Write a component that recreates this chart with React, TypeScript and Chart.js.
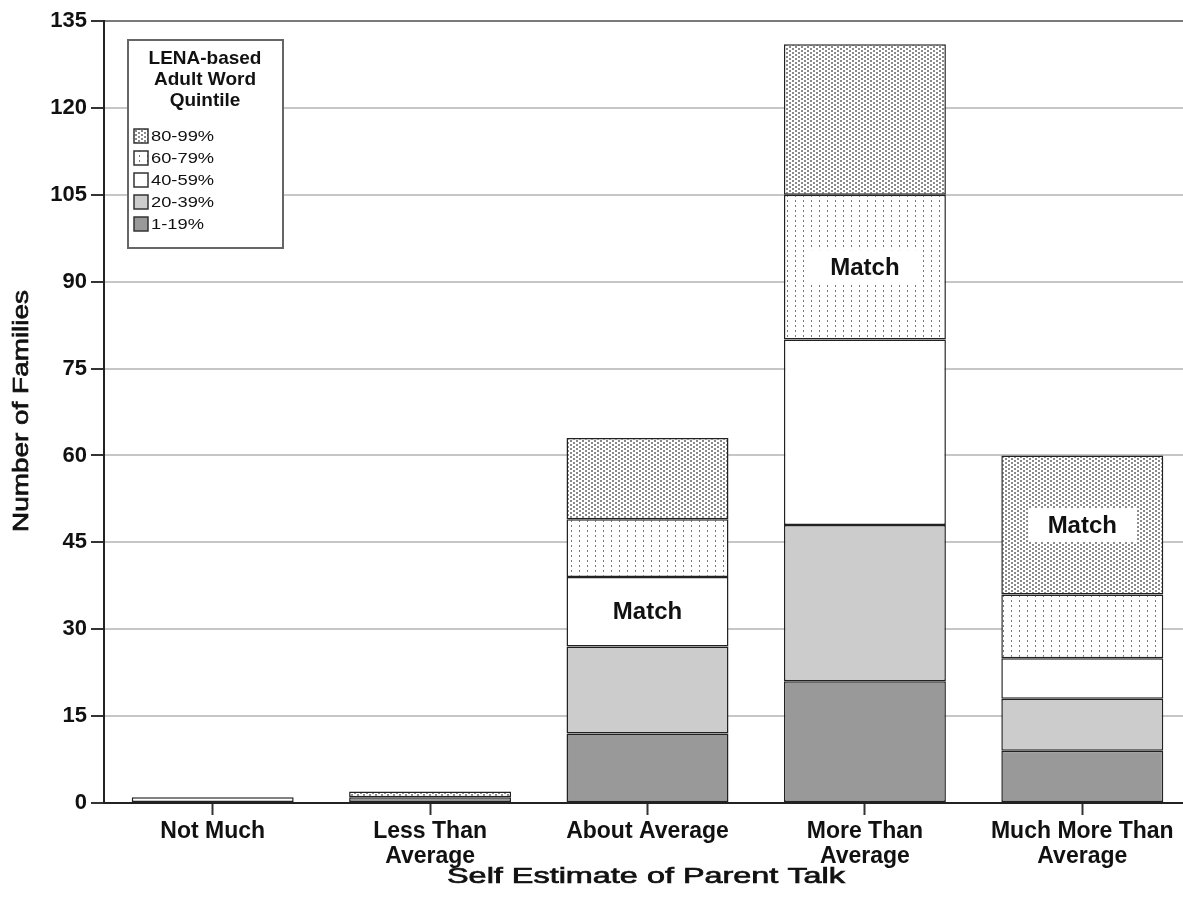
import React, { useEffect, useRef } from "react";
import { Chart, registerables } from "chart.js";
Chart.register(...registerables);

const categories = [["Not Much"], ["Less Than", "Average"], ["About Average"], ["More Than", "Average"], ["Much More Than", "Average"]];
const seriesLabels = ["1-19%", "20-39%", "40-59%", "60-79%", "80-99%"];
const q1 = [0, 1, 12, 21, 9];
const q2 = [0, 0, 15, 27, 9];
const q3 = [1, 0, 12, 32, 7];
const q4 = [0, 0, 10, 25, 11];
const q5 = [0, 1, 14, 26, 24];
const matchSeries = [-1, -1, 2, 3, 4];
const matchText = "Match";
const legendTitle = ["LENA-based", "Adult Word", "Quintile"];
const xTitle = "Self Estimate of Parent Talk";
const yTitle = "Number of Families";
const yMax = 135;
const yStep = 15;

const FONT = '"Liberation Sans", Arial, Helvetica, sans-serif';

function makePattern(kind: string): CanvasPattern | string {
  const c = document.createElement("canvas");
  const g = c.getContext("2d")!;
  if (kind === "dense") {
    c.width = 6; c.height = 4;
    g.fillStyle = "#fff"; g.fillRect(0, 0, 6, 4);
    g.fillStyle = "#8a8a8a";
    g.fillRect(0, 0, 2, 2);
    g.fillRect(3, 2, 2, 2);
  } else {
    c.width = 8; c.height = 5;
    g.fillStyle = "#fff"; g.fillRect(0, 0, 8, 5);
    g.fillStyle = "#7a7a7a";
    g.fillRect(3, 0, 1, 2);
  }
  return g.createPattern(c, "repeat") || "#ddd";
}

export default function App() {
  const ref = useRef<HTMLCanvasElement | null>(null);
  useEffect(() => {
    document.body.style.margin = "0";
    document.body.style.overflow = "hidden";
    const canvas = ref.current!;
    const fills: any[] = ["#999999", "#cccccc", "#ffffff", makePattern("vdots"), makePattern("dense")];
    const series = [q1, q2, q3, q4, q5];

    const drawWideText = (ctx: any, text: string, x: number, y: number, width: number, rot: number) => {
      ctx.save();
      ctx.font = `22px ${FONT}`;
      const w = ctx.measureText(text).width;
      ctx.translate(x, y);
      ctx.rotate(rot);
      ctx.scale(width / w, 1);
      ctx.fillStyle = "#111";
      ctx.strokeStyle = "#111";
      ctx.lineWidth = 0.7;
      ctx.textAlign = "center";
      ctx.textBaseline = "middle";
      ctx.fillText(text, 0, 0);
      ctx.strokeText(text, 0, 0);
      ctx.restore();
    };

    const overlay = {
      id: "overlay",
      afterDatasetsDraw(chart: any) {
        const ctx = chart.ctx;
        ctx.save();
        matchSeries.forEach((ds, i) => {
          if (ds < 0) return;
          const el = chart.getDatasetMeta(ds).data[i];
          const cx = el.x;
          const cy = (el.y + el.base) / 2;
          ctx.fillStyle = "#fff";
          ctx.fillRect(cx - 54, cy - 17, 108, 34);
          ctx.fillStyle = "#111";
          ctx.font = `bold 24px ${FONT}`;
          ctx.textAlign = "center";
          ctx.textBaseline = "middle";
          ctx.fillText(matchText, cx, cy + 1);
        });
        ctx.restore();
      },
      afterDraw(chart: any) {
        const ctx = chart.ctx;
        ctx.save();
        drawWideText(ctx, xTitle, 646, 877, 398, 0);
        drawWideText(ctx, yTitle, 22, 411, 242, -Math.PI / 2);
        // legend box
        ctx.fillStyle = "#fff";
        ctx.fillRect(128, 40, 155, 208);
        ctx.strokeStyle = "#666";
        ctx.lineWidth = 2;
        ctx.strokeRect(128, 40, 155, 208);
        ctx.fillStyle = "#111";
        ctx.textAlign = "center";
        ctx.textBaseline = "middle";
        ctx.font = `bold 19px ${FONT}`;
        legendTitle.forEach((t, k) => ctx.fillText(t, 205, 59 + k * 21));
        for (let k = 0; k < 5; k++) {
          const si = 4 - k;
          const cy = 136 + k * 22;
          ctx.fillStyle = fills[si];
          ctx.fillRect(134, cy - 7, 14, 14);
          ctx.strokeStyle = "#333";
          ctx.lineWidth = 1.5;
          ctx.strokeRect(134, cy - 7, 14, 14);
          ctx.fillStyle = "#111";
          ctx.font = `15px ${FONT}`;
          ctx.textAlign = "left";
          ctx.save();
          ctx.translate(151, cy + 1);
          ctx.scale(1.22, 1);
          ctx.fillText(seriesLabels[si], 0, 0);
          ctx.restore();
        }
        ctx.restore();
      },
    };

    const chart = new Chart(canvas, {
      type: "bar",
      data: {
        labels: categories as any,
        datasets: series.map((d, k) => ({
          label: seriesLabels[k],
          data: d,
          backgroundColor: fills[k],
          borderColor: "#222",
          borderWidth: 1.5,
          borderSkipped: false,
          barPercentage: 0.745,
          categoryPercentage: 1,
        })),
      },
      options: {
        responsive: false,
        animation: false,
        layout: { padding: { top: 21, right: 4, left: 0, bottom: 0 } },
        plugins: { legend: { display: false }, tooltip: { enabled: false } },
        scales: {
          x: {
            stacked: true,
            grid: { offset: false, drawOnChartArea: false, drawTicks: true, tickLength: 12, tickColor: "#333", tickWidth: 2 },
            border: { color: "#222", width: 2 },
            ticks: { font: { family: FONT, size: 23, weight: "bold", lineHeight: 1.08 }, color: "#111", padding: 4, maxRotation: 0, autoSkip: false },
            afterFit: (s: any) => { s.height = 108; },
          },
          y: {
            stacked: true,
            min: 0,
            max: yMax,
            ticks: { stepSize: yStep, font: { family: FONT, size: 22, weight: "bold" }, color: "#111", padding: 4 },
            grid: {
              color: (c: any) => (c.tick && c.tick.value === yMax ? "#7a7a7a" : "#c6c6c6"),
              lineWidth: 2,
              tickLength: 13,
              tickColor: "#333",
              tickWidth: 2,
            },
            border: { color: "#222", width: 2 },
            afterFit: (s: any) => { s.width = 104; },
          },
        },
      },
      plugins: [overlay],
    } as any);
    return () => chart.destroy();
  }, []);
  return (
    <div style={{ width: 1183, height: 911, overflow: "hidden" }}>
      <canvas ref={ref} width={1195} height={911} style={{ display: "block" }} />
    </div>
  );
}
